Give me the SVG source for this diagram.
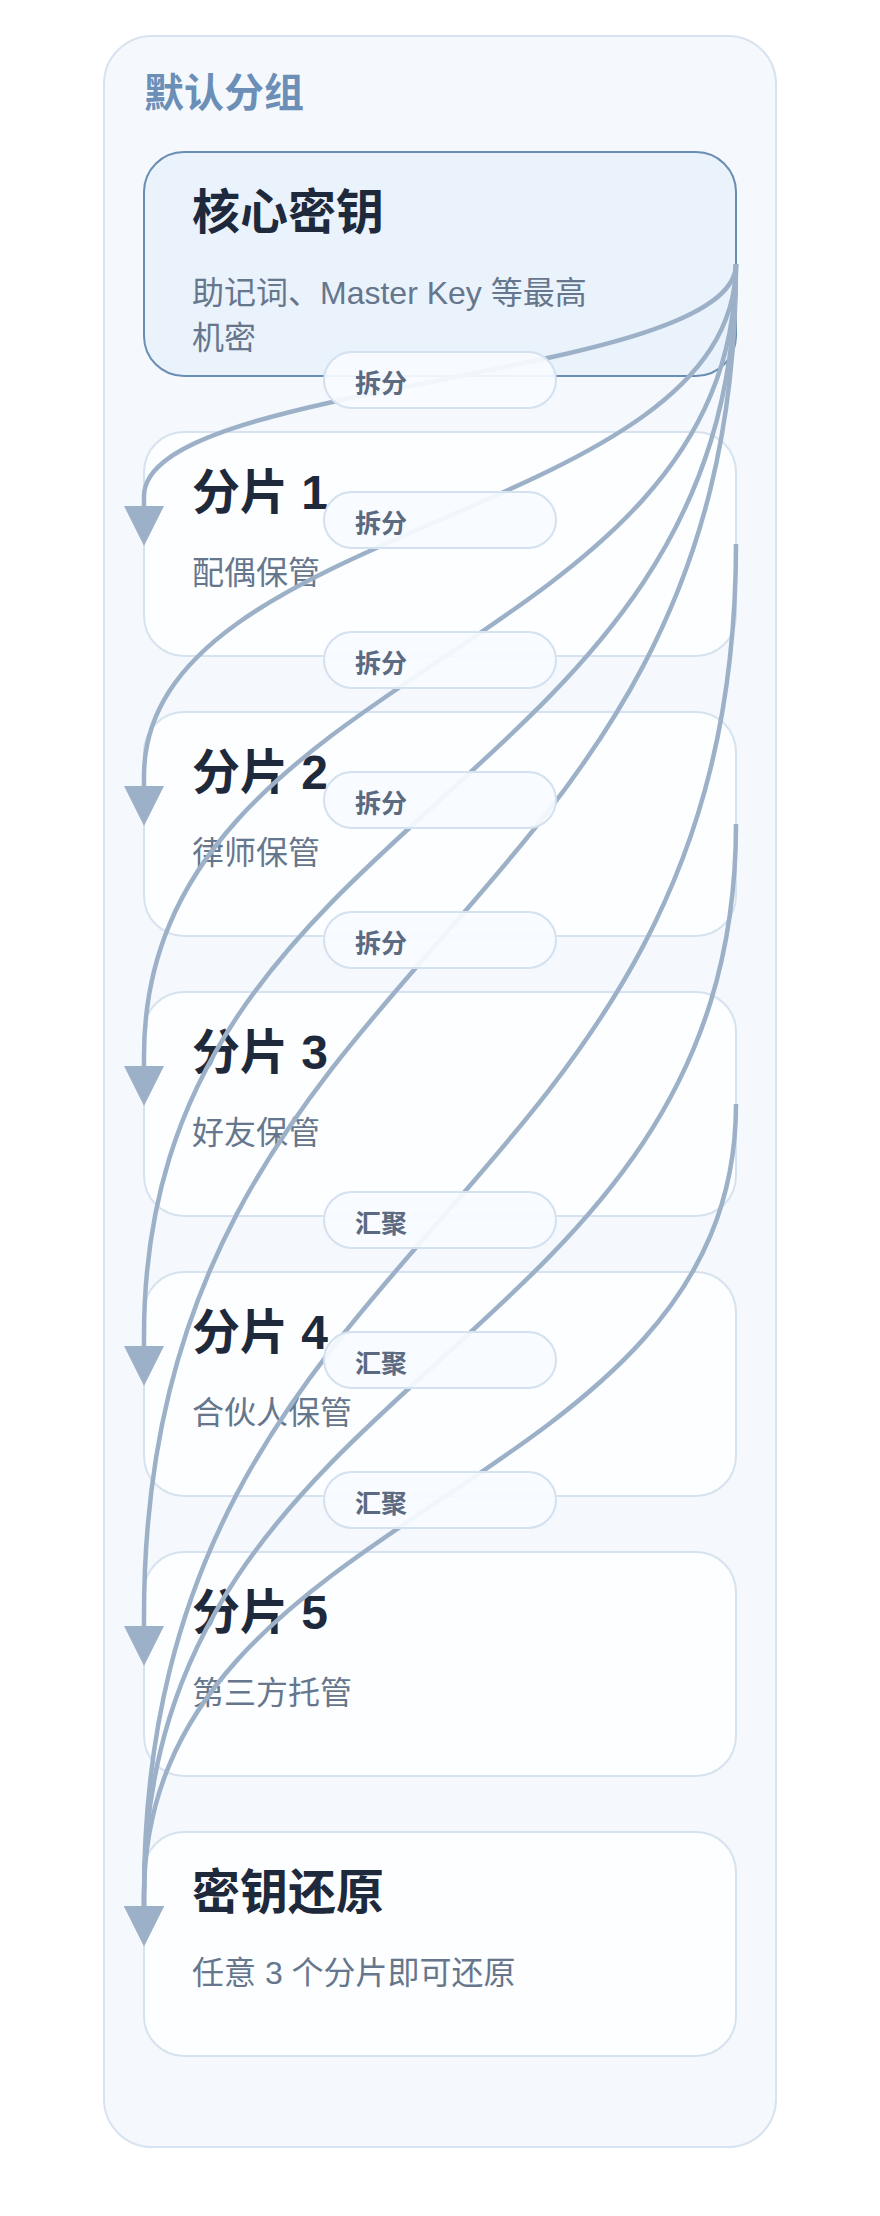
<svg xmlns="http://www.w3.org/2000/svg" width="880" height="2216" viewBox="0 0 880 2216">
  <style>
    text { font-family: "Liberation Sans", "Noto Sans CJK SC", sans-serif; }
    .group-box { fill: #f5f9fd; stroke: #d7e3f0; stroke-width: 2; }
    .group-label { font-size: 40px; font-weight: 700; fill: #6b8fb6; }
    .node-box { fill: #fdfeff; stroke: #d6e2ef; stroke-width: 2; }
    .node-core { fill: #eaf2fc; stroke: #6a8db3; stroke-width: 2; }
    .title { font-size: 48px; font-weight: 700; fill: #1e293b; }
    .desc { font-size: 32px; fill: #66768c; }
    .edge { fill: none; stroke: #9cb1c8; stroke-width: 4.5; }
    .pill { fill: #f7fbff; fill-opacity: 0.93; stroke: #d3e1f0; stroke-width: 2; }
    .pill-text { font-size: 26px; font-weight: 700; fill: #5b6a80; }
  </style>
  <defs>
    <marker id="arrow" markerUnits="userSpaceOnUse" markerWidth="40" markerHeight="40" viewBox="0 0 40 40" refX="0" refY="20" orient="auto">
      <path d="M0,0 L40,20 L0,40 Z" fill="#9cb1c8"/>
    </marker>
  </defs>

  <g id="group-default">
    <rect class="group-box" x="104" y="36" width="672" height="2111" rx="48"/>
    <text class="group-label" x="144" y="107">默认分组</text>
  </g>

  <g id="node-core">
    <rect class="node-core" x="144" y="152" width="592" height="224" rx="40"/>
    <text class="title" x="192" y="229">核心密钥</text>
    <text class="desc" x="192" y="304">助记词、Master Key 等最高</text>
    <text class="desc" x="192" y="349">机密</text>
  </g>

  <g id="node-shard1">
    <rect class="node-box" x="144" y="432" width="592" height="224" rx="40"/>
    <text class="title" x="192" y="509">分片 1</text>
    <text class="desc" x="192" y="584">配偶保管</text>
  </g>

  <g id="node-shard2">
    <rect class="node-box" x="144" y="712" width="592" height="224" rx="40"/>
    <text class="title" x="192" y="789">分片 2</text>
    <text class="desc" x="192" y="864">律师保管</text>
  </g>

  <g id="node-shard3">
    <rect class="node-box" x="144" y="992" width="592" height="224" rx="40"/>
    <text class="title" x="192" y="1069">分片 3</text>
    <text class="desc" x="192" y="1144">好友保管</text>
  </g>

  <g id="node-shard4">
    <rect class="node-box" x="144" y="1272" width="592" height="224" rx="40"/>
    <text class="title" x="192" y="1349">分片 4</text>
    <text class="desc" x="192" y="1424">合伙人保管</text>
  </g>

  <g id="node-shard5">
    <rect class="node-box" x="144" y="1552" width="592" height="224" rx="40"/>
    <text class="title" x="192" y="1629">分片 5</text>
    <text class="desc" x="192" y="1704">第三方托管</text>
  </g>

  <g id="node-restore">
    <rect class="node-box" x="144" y="1832" width="592" height="224" rx="40"/>
    <text class="title" x="192" y="1909">密钥还原</text>
    <text class="desc" x="192" y="1984">任意 3 个分片即可还原</text>
  </g>

  <g id="connectors">
    <path class="edge" marker-end="url(#arrow)" d="M736,264 C736,380 144,380 144,496 L144,506"/>
    <path class="edge" marker-end="url(#arrow)" d="M736,264 C736,520 144,520 144,776 L144,786"/>
    <path class="edge" marker-end="url(#arrow)" d="M736,264 C736,660 144,660 144,1056 L144,1066"/>
    <path class="edge" marker-end="url(#arrow)" d="M736,264 C736,800 144,800 144,1336 L144,1346"/>
    <path class="edge" marker-end="url(#arrow)" d="M736,264 C736,940 144,940 144,1616 L144,1626"/>
    <path class="edge" marker-end="url(#arrow)" d="M736,544 C736,1220 144,1220 144,1896 L144,1906"/>
    <path class="edge" marker-end="url(#arrow)" d="M736,824 C736,1360 144,1360 144,1896 L144,1906"/>
    <path class="edge" marker-end="url(#arrow)" d="M736,1104 C736,1500 144,1500 144,1896 L144,1906"/>
  </g>

  <g id="connector-labels">
    <g id="label-1"><rect class="pill" x="324" y="352" width="232" height="56" rx="28"/><text class="pill-text" x="355" y="393">拆分</text></g>
    <g id="label-2"><rect class="pill" x="324" y="492" width="232" height="56" rx="28"/><text class="pill-text" x="355" y="533">拆分</text></g>
    <g id="label-3"><rect class="pill" x="324" y="632" width="232" height="56" rx="28"/><text class="pill-text" x="355" y="673">拆分</text></g>
    <g id="label-4"><rect class="pill" x="324" y="772" width="232" height="56" rx="28"/><text class="pill-text" x="355" y="813">拆分</text></g>
    <g id="label-5"><rect class="pill" x="324" y="912" width="232" height="56" rx="28"/><text class="pill-text" x="355" y="953">拆分</text></g>
    <g id="label-6"><rect class="pill" x="324" y="1192" width="232" height="56" rx="28"/><text class="pill-text" x="355" y="1233">汇聚</text></g>
    <g id="label-7"><rect class="pill" x="324" y="1332" width="232" height="56" rx="28"/><text class="pill-text" x="355" y="1373">汇聚</text></g>
    <g id="label-8"><rect class="pill" x="324" y="1472" width="232" height="56" rx="28"/><text class="pill-text" x="355" y="1513">汇聚</text></g>
  </g>
</svg>
